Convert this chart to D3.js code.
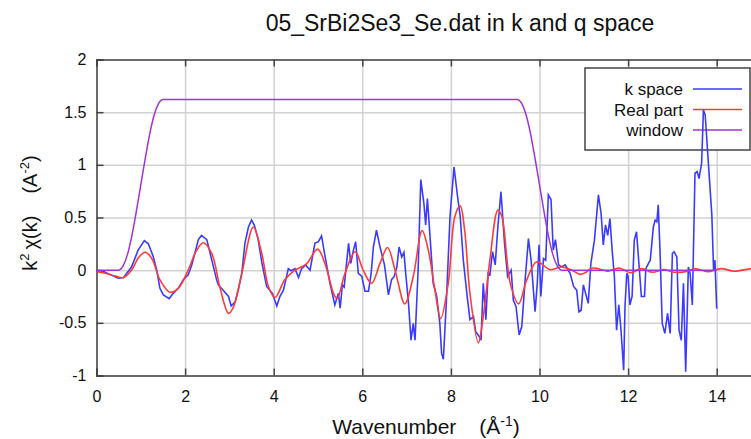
<!DOCTYPE html>
<html>
<head>
<meta charset="utf-8">
<script src="https://cdn.jsdelivr.net/npm/d3@7"></script>
<style>
body{margin:0;background:#fff;}
text{font-family:"Liberation Sans",Arial,sans-serif;fill:#111;}
</style>
</head>
<body>
<div id="ChartPart"></div>
<script>
// data ---------------------------------------------------------------------------------
var kSpaceK = [0.00,0.15,0.30,0.49,0.61,0.79,0.94,1.08,1.17,1.28,1.36,1.43,1.51,1.64,1.70,1.85,1.96,2.07,2.15,2.22,2.30,2.37,2.49,2.60,2.71,2.75,2.86,2.98,3.04,3.13,3.20,3.28,3.35,3.43,3.50,3.56,3.65,3.73,3.84,3.97,4.07,4.14,4.22,4.33,4.39,4.48,4.56,4.63,4.72,4.82,4.93,5.01,5.08,5.16,5.27,5.38,5.46,5.50,5.55,5.59,5.69,5.74,5.80,5.85,5.91,5.99,6.06,6.14,6.20,6.25,6.32,6.40,6.50,6.59,6.66,6.72,6.78,6.83,6.89,6.94,6.98,7.04,7.10,7.15,7.19,7.26,7.32,7.39,7.43,7.47,7.55,7.60,7.68,7.75,7.79,7.83,7.90,7.98,8.07,8.15,8.21,8.28,8.36,8.43,8.51,8.56,8.64,8.68,8.73,8.79,8.84,8.88,8.94,9.00,9.06,9.13,9.21,9.28,9.36,9.41,9.47,9.54,9.60,9.67,9.75,9.81,9.90,9.95,9.99,10.03,10.09,10.14,10.20,10.26,10.31,10.36,10.43,10.50,10.58,10.69,10.77,10.84,10.89,10.94,10.99,11.04,11.10,11.16,11.24,11.33,11.39,11.44,11.49,11.54,11.59,11.64,11.69,11.74,11.79,11.84,11.90,11.93,11.97,12.00,12.04,12.09,12.14,12.19,12.25,12.30,12.37,12.40,12.46,12.50,12.57,12.61,12.65,12.68,12.72,12.77,12.83,12.89,12.95,13.00,13.04,13.10,13.15,13.20,13.25,13.30,13.36,13.40,13.45,13.51,13.56,13.60,13.66,13.70,13.74,13.81,13.89,13.93,13.96,14.00];
var kSpaceChi = [0.00,-0.01,-0.04,-0.077,-0.07,0.03,0.19,0.28,0.25,0.13,0.00,-0.17,-0.235,-0.27,-0.235,-0.17,-0.09,-0.045,0.05,0.16,0.29,0.33,0.29,0.10,-0.09,-0.14,-0.19,-0.25,-0.34,-0.30,-0.19,-0.03,0.255,0.41,0.475,0.43,0.29,0.08,-0.155,-0.22,-0.34,-0.25,-0.19,0.015,-0.005,0.015,-0.07,0.015,0.05,0.00,0.255,0.27,0.325,0.13,-0.125,-0.33,-0.22,-0.36,-0.14,-0.16,0.255,0.065,0.19,0.27,-0.03,-0.06,-0.20,-0.20,-0.03,0.22,0.38,0.22,0.05,-0.235,-0.09,-0.06,0.03,0.22,0.125,0.17,-0.03,-0.30,-0.665,-0.505,-0.665,0.00,0.86,0.635,0.43,0.68,0.19,-0.125,-0.25,-0.505,-0.79,-0.845,-0.28,0.51,0.98,0.70,0.51,0.095,-0.22,-0.47,-0.44,-0.585,-0.63,-0.665,-0.125,-0.47,-0.03,-0.045,0.175,0.05,0.41,0.745,0.255,-0.06,0.00,-0.285,-0.345,-0.615,-0.535,-0.125,0.30,0.095,-0.395,-0.125,0.24,-0.25,0.11,0.095,0.715,0.67,0.19,0.29,0.05,0.03,0.05,-0.03,-0.155,-0.19,-0.395,-0.38,-0.14,-0.22,-0.315,0.065,0.285,0.715,0.54,0.24,0.43,0.33,0.49,0.19,-0.06,-0.57,-0.33,-0.57,-0.95,-0.345,-0.03,-0.06,-0.33,-0.25,0.285,0.365,0.03,-0.25,-0.25,0.015,0.065,0.095,0.41,0.475,0.46,0.62,0.19,-0.505,-0.60,-0.41,-0.60,0.16,0.175,0.125,-0.57,-0.665,-0.125,-0.965,0.03,-0.03,-0.33,0.92,0.935,0.87,1.015,1.52,1.475,1.03,0.525,-0.005,0.095,-0.365];

var realK = [0.00,0.20,0.42,0.61,0.79,0.95,1.10,1.25,1.43,1.66,1.85,2.07,2.25,2.41,2.60,2.79,2.98,3.09,3.28,3.54,3.73,3.88,4.03,4.25,4.48,4.74,4.99,5.16,5.35,5.43,5.61,5.84,6.02,6.21,6.40,6.57,6.74,6.96,7.15,7.35,7.49,7.64,7.77,7.94,8.09,8.21,8.31,8.43,8.62,8.73,8.88,9.06,9.15,9.34,9.53,9.71,9.94,10.24,10.50,10.73,10.92,11.05,11.20,11.45,11.55,11.80,12.05,12.30,12.55,12.80,13.05,13.35,13.50,13.80,14.10,14.40,14.80,15.00];
var realChi = [-0.015,-0.03,-0.055,-0.07,0.00,0.12,0.17,0.11,-0.09,-0.21,-0.17,0.00,0.18,0.26,0.16,-0.17,-0.41,-0.35,-0.03,0.41,0.16,-0.155,-0.26,-0.09,0.00,0.06,0.20,0.06,-0.22,-0.27,-0.03,0.175,0.00,-0.125,0.065,0.215,0.00,-0.32,-0.06,0.375,0.19,-0.19,-0.46,-0.125,0.51,0.61,0.38,-0.22,-0.69,-0.44,0.095,0.57,0.51,-0.125,-0.32,-0.095,0.08,0.005,0.03,0.00,-0.04,-0.02,0.02,0.00,-0.01,0.02,-0.025,0.015,-0.02,0.005,-0.02,-0.01,0.015,-0.015,0.015,-0.01,0.015,0.00];

var windowK = [0.0,0.5,0.6,0.7,0.8,0.9,1.0,1.1,1.2,1.3,1.4,1.5,9.5,9.6,9.7,9.8,9.9,10.0,10.1,10.2,10.3,10.4,10.5,14.0];
var windowVal = [0,0,0.04,0.15,0.33,0.56,0.81,1.06,1.29,1.47,1.58,1.62,1.62,1.58,1.47,1.29,1.06,0.81,0.56,0.33,0.15,0.04,0,0];

var xTicks = [0,2,4,6,8,10,12,14];
var yTicks = [-1,-0.5,0,0.5,1,1.5,2];
var yTickLabels = ["-1","-0.5","0","0.5","1","1.5","2"];
var legendNames = ["k space","Real part","window"];
var seriesColors = ["#3b3bff","#ff3b3b","#a035d6"];

var PlotLeft = 96.5, PlotRight = 761, PlotTop = 59.5, PlotBottom = 375.5;
var xScale = d3.scaleLinear().domain([0,15]).range([PlotLeft,PlotRight]);
var yScale = d3.scaleLinear().domain([-1,2]).range([PlotBottom,PlotTop]);

var ChartSvg = d3.select("#ChartPart").append("svg")
	.attr("width",751)
	.attr("height",439);

ChartSvg.append("defs").append("clipPath").attr("id","PlotClip")
	.append("rect")
	.attr("x",PlotLeft).attr("y",PlotTop)
	.attr("width",PlotRight-PlotLeft).attr("height",PlotBottom-PlotTop);

//grid lines------------------------------------------------------------------------------
ChartSvg.append("g")
	.attr("transform","translate(0,"+PlotBottom+")")
	.call(d3.axisBottom(xScale).tickValues(xTicks).tickSize(-(PlotBottom-PlotTop)).tickFormat(""))
	.call(function(g){ g.select(".domain").remove(); })
	.selectAll("line").attr("stroke","#d2d2d2").attr("stroke-width",1.5);

ChartSvg.append("g")
	.attr("transform","translate("+PlotLeft+",0)")
	.call(d3.axisLeft(yScale).tickValues(yTicks).tickSize(-(PlotRight-PlotLeft)).tickFormat(""))
	.call(function(g){ g.select(".domain").remove(); })
	.selectAll("line").attr("stroke","#d2d2d2").attr("stroke-width",1.5);

//axes with inward ticks------------------------------------------------------------------
var BottomAxis = ChartSvg.append("g")
	.attr("transform","translate(0,"+PlotBottom+")")
	.call(d3.axisBottom(xScale).tickValues(xTicks).tickSize(-7).tickPadding(15).tickFormat(d3.format("d")));
var TopAxis = ChartSvg.append("g")
	.attr("transform","translate(0,"+PlotTop+")")
	.call(d3.axisTop(xScale).tickValues(xTicks).tickSize(-7).tickFormat(""));
var LeftAxis = ChartSvg.append("g")
	.attr("transform","translate("+PlotLeft+",0)")
	.call(d3.axisLeft(yScale).tickValues(yTicks).tickSize(-7).tickPadding(10)
		.tickFormat(function(d,i){ return yTickLabels[i]; }));

[BottomAxis,TopAxis,LeftAxis].forEach(function(Axis){
	Axis.select(".domain").attr("stroke","#444").attr("stroke-width",1.5);
	Axis.selectAll(".tick line").attr("stroke","#444").attr("stroke-width",1.5);
	Axis.selectAll("text").style("font-size","16px").attr("fill","#111")
		.style("font-family","'Liberation Sans',Arial,sans-serif");
});

//legend box (lines are drawn over it)-----------------------------------------------------
ChartSvg.append("rect")
	.attr("x",585).attr("y",68)
	.attr("width",165).attr("height",82)
	.attr("fill","#fff").attr("stroke","#444").attr("stroke-width",1.5);

var LegendRow = ChartSvg.selectAll(".legendRow")
	.data(legendNames)
	.enter()
	.append("g")
	.attr("class","legendRow")
	.attr("transform",function(d,i){ return "translate(0,"+(89+i*20.5)+")"; });
LegendRow.append("text")
	.attr("x",683).attr("y",6)
	.attr("text-anchor","end")
	.style("font-size","17px")
	.text(function(d){ return d; });
LegendRow.append("line")
	.attr("x1",693).attr("x2",742)
	.attr("stroke",function(d,i){ return seriesColors[i]; })
	.attr("stroke-width",1.5);

//series----------------------------------------------------------------------------------
var LineGen = d3.line()
	.x(function(d){ return xScale(d[0]); })
	.y(function(d){ return yScale(d[1]); });
var SmoothGen = d3.line()
	.x(function(d){ return xScale(d[0]); })
	.y(function(d){ return yScale(d[1]); })
	.curve(d3.curveCatmullRom.alpha(0.5));
var WindowGen = d3.line()
	.x(function(d){ return xScale(d[0]); })
	.y(function(d){ return yScale(d[1]); })
	.curve(d3.curveMonotoneX);

var PlotGroup = ChartSvg.append("g").attr("clip-path","url(#PlotClip)");
PlotGroup.append("path")
	.datum(d3.zip(kSpaceK,kSpaceChi))
	.attr("d",LineGen)
	.attr("fill","none").attr("stroke",seriesColors[0]).attr("stroke-width",1.6);
PlotGroup.append("path")
	.datum(d3.zip(realK,realChi))
	.attr("d",SmoothGen)
	.attr("fill","none").attr("stroke",seriesColors[1]).attr("stroke-width",1.6);
PlotGroup.append("path")
	.datum(d3.zip(windowK,windowVal))
	.attr("d",WindowGen)
	.attr("fill","none").attr("stroke",seriesColors[2]).attr("stroke-width",1.5);

//titles----------------------------------------------------------------------------------
ChartSvg.append("text")
	.attr("x",460).attr("y",31)
	.attr("text-anchor","middle")
	.style("font-size","23px")
	.text("05_SrBi2Se3_Se.dat in k and q space");

var XTitle = ChartSvg.append("text")
	.attr("x",426).attr("y",434)
	.attr("text-anchor","middle")
	.style("font-size","21px");
XTitle.append("tspan").text("Wavenumber");
XTitle.append("tspan").attr("dx",23).text("(Å");
XTitle.append("tspan").attr("dy",-8).style("font-size","14px").text("-1");
XTitle.append("tspan").attr("dy",8).text(")");

var YTitle = ChartSvg.append("text")
	.attr("transform","translate(37,213) rotate(-90)")
	.attr("text-anchor","middle")
	.style("font-size","20px");
YTitle.append("tspan").text("k");
YTitle.append("tspan").attr("dy",-8).style("font-size","13px").text("2");
YTitle.append("tspan").attr("dy",8).attr("dx",4).text("χ(k)");
YTitle.append("tspan").attr("dx",22).text("(A");
YTitle.append("tspan").attr("dy",-8).style("font-size","13px").text("-2");
YTitle.append("tspan").attr("dy",8).text(")");
</script>
</body>
</html>
